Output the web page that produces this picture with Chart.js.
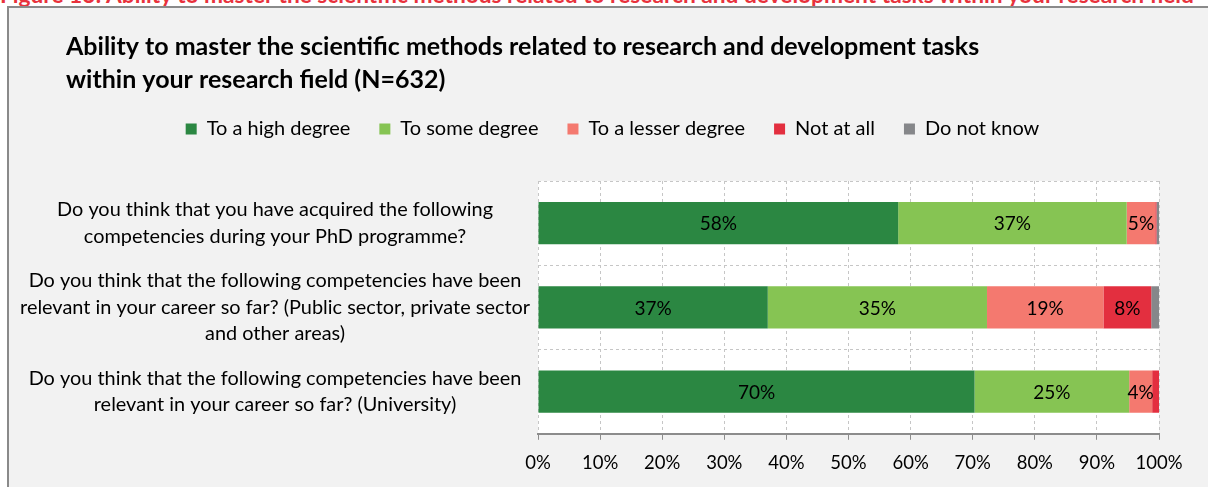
<!DOCTYPE html>
<html>
<head>
<meta charset="utf-8">
<script src="https://cdn.jsdelivr.net/npm/chart.js@4"></script>
<style>
  html, body { margin: 0; padding: 0; background: #fff; overflow: hidden; }
  body { width: 1208px; height: 487px; position: relative; font-family: Lato, sans-serif; }
  #caption { position: absolute; left: 0; top: -16px; white-space: nowrap; color: #e8323c;
             font: bold 22.7px/22.7px Lato, sans-serif; }
  #frame { position: absolute; left: 7px; top: 6px; width: 1300px; height: 600px;
           border: 2px solid #8a8a8a; background: #f2f2f2; }
  #wrap { position: absolute; left: 0; top: 0; width: 1208px; height: 487px; }
</style>
</head>
<body>
<div id="caption">Figure 13: Ability to master the scientific methods related to research and development tasks within your research field</div>
<div id="frame"></div>
<div id="wrap"><canvas id="myChart"></canvas></div>
<script>
// data
const categories = [
    ["Do you think that you have acquired the following", "competencies during your PhD programme?"],
    ["Do you think that the following competencies have been", "relevant in your career so far? (Public sector, private sector", "and other areas)"],
    ["Do you think that the following competencies have been", "relevant in your career so far? (University)"]
];
const seriesNames = ["To a high degree", "To some degree", "To a lesser degree", "Not at all", "Do not know"];
const highDegree = [58.0, 37.0, 70.3];
const someDegree = [36.8, 35.3, 24.9];
const lesserDegree = [4.6, 18.75, 3.7];
const notAtAll = [0.2, 7.7, 1.1];
const doNotKnow = [0.4, 1.25, 0];
const tickLabels = ["0%", "10%", "20%", "30%", "40%", "50%", "60%", "70%", "80%", "90%", "100%"];
const titleLines = ["Ability to master the scientific methods related to research and development tasks",
                    "within your research field (N=632)"];

const colours = ["#2b8742", "#86c453", "#f4796f", "#e32f3f", "#86878a"];
const series = [highDegree, someDegree, lesserDegree, notAtAll, doNotKnow];

Chart.defaults.font.family = "Lato";
Chart.defaults.color = "#000";

// white plot area
const plotBg = {
    id: "plotBg",
    beforeDraw(chart) {
        const a = chart.chartArea;
        chart.ctx.save();
        chart.ctx.fillStyle = "#fff";
        chart.ctx.fillRect(a.left, a.top, a.right - a.left, a.bottom - a.top);
        chart.ctx.restore();
    }
};

// long question labels run further left than the title, so widen the y label clip box
const wideLabels = {
    id: "wideLabels",
    afterLayout(chart) {
        chart.scales.y.left = 0;
    }
};

// percent labels in the middle of each segment
const barLabels = {
    id: "barLabels",
    afterDatasetsDraw(chart) {
        const ctx = chart.ctx;
        ctx.save();
        ctx.font = "19px Lato";
        ctx.fillStyle = "#000";
        ctx.textAlign = "center";
        ctx.textBaseline = "middle";
        chart.data.datasets.forEach((ds, i) => {
            chart.getDatasetMeta(i).data.forEach((bar, j) => {
                const v = ds.data[j];
                if (v < 2) return;
                const p = bar.getCenterPoint();
                ctx.fillText(Math.round(v) + "%", p.x, p.y + 1);
            });
        });
        ctx.restore();
    }
};

const data = {
    labels: categories,
    datasets: seriesNames.map((name, i) => ({
        label: name,
        data: series[i],
        backgroundColor: colours[i],
        borderWidth: 0,
        categoryPercentage: 0.5,
        barPercentage: 1.0
    }))
};

const config = {
    type: "bar",
    data: data,
    plugins: [plotBg, wideLabels, barLabels],
    options: {
        indexAxis: "y",
        responsive: true,
        maintainAspectRatio: false,
        animation: false,
        layout: { padding: { left: 66, right: 49, top: 0, bottom: 1 } },
        scales: {
            x: {
                stacked: true,
                min: 0,
                max: 100,
                ticks: {
                    stepSize: 10,
                    padding: 12,
                    color: "#000",
                    font: { size: 18.5 },
                    callback: (v, i) => tickLabels[i]
                },
                grid: { color: "#c6c6c6", tickColor: "#8c8c8c", tickLength: 6, tickBorderDash: [] },
                border: { color: "#8c8c8c", width: 2, dash: [3, 3] }
            },
            y: {
                stacked: true,
                grid: { color: "#c6c6c6", drawTicks: false, offset: true },
                border: { display: false, dash: [3, 3] },
                ticks: {
                    autoSkip: false,
                    crossAlign: "center",
                    padding: 8,
                    color: "#000",
                    font: { size: 19.9, lineHeight: 1.33 }
                },
                afterFit: s => { s.width = 472; }
            }
        },
        plugins: {
            title: {
                display: true,
                align: "start",
                text: titleLines,
                color: "#000",
                font: { size: 25, weight: "bold", lineHeight: 33 / 25 },
                padding: { top: 30.5, bottom: -6.5 }
            },
            subtitle: {
                display: true,
                text: "",
                weight: 500,
                padding: 0,
                font: { size: 10, lineHeight: 3.2 }
            },
            legend: {
                position: "top",
                labels: { boxWidth: 11, boxHeight: 11, padding: 29, color: "#000", font: { size: 20 } }
            },
            tooltip: { enabled: false }
        }
    }
};

window.onload = function () {
    const myChart = new Chart(document.getElementById("myChart"), config);
};
</script>
</body>
</html>
